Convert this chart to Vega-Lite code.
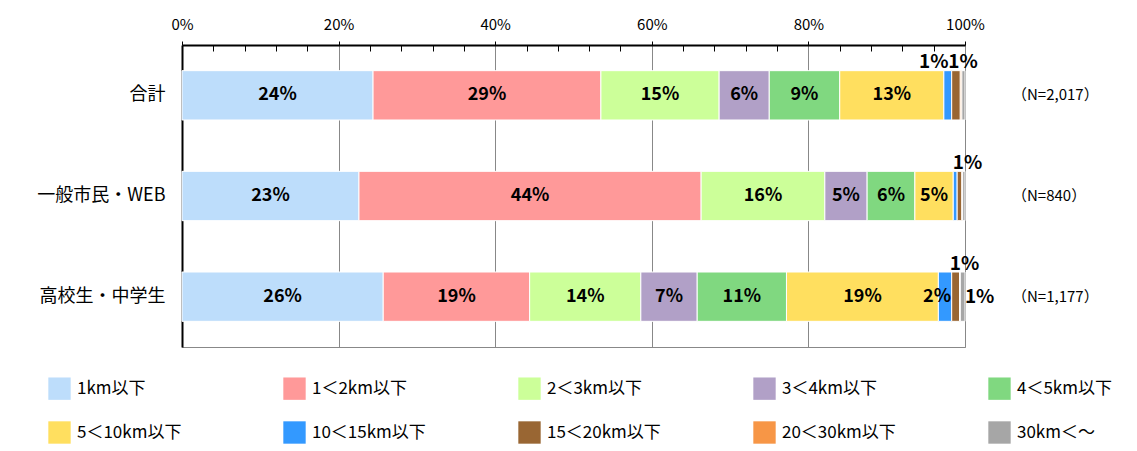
{
  "$schema": "https://vega.github.io/schema/vega-lite/v6.json",
  "width": 783,
  "height": 302,
  "autosize": "none",
  "padding": {"left": 182, "top": 45, "right": 172, "bottom": 104},
  "background": "white",
  "config": {
    "font": "Noto Sans CJK JP",
    "view": {"stroke": "#888888", "strokeWidth": 1}
  },
  "datasets": {
    "d": [
      {"g": "合計", "k": 1, "c": "1km以下", "v": 24.4},
      {"g": "合計", "k": 2, "c": "1＜2km以下", "v": 29.1},
      {"g": "合計", "k": 3, "c": "2＜3km以下", "v": 15.1},
      {"g": "合計", "k": 4, "c": "3＜4km以下", "v": 6.4},
      {"g": "合計", "k": 5, "c": "4＜5km以下", "v": 9.0},
      {"g": "合計", "k": 6, "c": "5＜10km以下", "v": 13.3},
      {"g": "合計", "k": 7, "c": "10＜15km以下", "v": 1.0},
      {"g": "合計", "k": 8, "c": "15＜20km以下", "v": 1.1},
      {"g": "合計", "k": 9, "c": "20＜30km以下", "v": 0.2},
      {"g": "合計", "k": 10, "c": "30km＜～", "v": 0.4},
      {"g": "一般市民・WEB", "k": 1, "c": "1km以下", "v": 22.6},
      {"g": "一般市民・WEB", "k": 2, "c": "1＜2km以下", "v": 43.7},
      {"g": "一般市民・WEB", "k": 3, "c": "2＜3km以下", "v": 15.8},
      {"g": "一般市民・WEB", "k": 4, "c": "3＜4km以下", "v": 5.4},
      {"g": "一般市民・WEB", "k": 5, "c": "4＜5km以下", "v": 6.1},
      {"g": "一般市民・WEB", "k": 6, "c": "5＜10km以下", "v": 4.9},
      {"g": "一般市民・WEB", "k": 7, "c": "10＜15km以下", "v": 0.5},
      {"g": "一般市民・WEB", "k": 8, "c": "15＜20km以下", "v": 0.6},
      {"g": "一般市民・WEB", "k": 9, "c": "20＜30km以下", "v": 0.1},
      {"g": "一般市民・WEB", "k": 10, "c": "30km＜～", "v": 0.3},
      {"g": "高校生・中学生", "k": 1, "c": "1km以下", "v": 25.7},
      {"g": "高校生・中学生", "k": 2, "c": "1＜2km以下", "v": 18.7},
      {"g": "高校生・中学生", "k": 3, "c": "2＜3km以下", "v": 14.2},
      {"g": "高校生・中学生", "k": 4, "c": "3＜4km以下", "v": 7.2},
      {"g": "高校生・中学生", "k": 5, "c": "4＜5km以下", "v": 11.4},
      {"g": "高校生・中学生", "k": 6, "c": "5＜10km以下", "v": 19.4},
      {"g": "高校生・中学生", "k": 7, "c": "10＜15km以下", "v": 1.7},
      {"g": "高校生・中学生", "k": 8, "c": "15＜20km以下", "v": 1.0},
      {"g": "高校生・中学生", "k": 9, "c": "20＜30km以下", "v": 0.1},
      {"g": "高校生・中学生", "k": 10, "c": "30km＜～", "v": 0.6}
    ],
    "n": [
      {"g": "合計", "t": "（N=2,017）"},
      {"g": "一般市民・WEB", "t": "（N=840）"},
      {"g": "高校生・中学生", "t": "（N=1,177）"}
    ]
  },
  "encoding": {
    "y": {
      "field": "g",
      "type": "nominal",
      "scale": {"domain": ["合計", "一般市民・WEB", "高校生・中学生"], "paddingInner": 0.51, "paddingOuter": 0.255},
      "axis": {
        "title": null,
        "ticks": false,
        "domainColor": "#000000",
        "domainWidth": 2,
        "labelFontSize": 18,
        "labelColor": "#000000",
        "labelPadding": 17
      }
    }
  },
  "layer": [
    {
      "data": {"name": "d"},
      "transform": [
        {"stack": "v", "groupby": ["g"], "sort": [{"field": "k", "order": "ascending"}], "as": ["x0", "x1"]},
        {"calculate": "(datum.x0 + datum.x1) / 2", "as": "mid"},
        {"calculate": "format(datum.v, '.0f') + '%'", "as": "lbl"}
      ],
      "layer": [
        {
          "mark": {"type": "bar", "stroke": "white", "strokeWidth": 1},
          "encoding": {
            "x": {
              "field": "x0",
              "type": "quantitative",
              "scale": {"domain": [0, 100], "nice": false},
              "axis": {
                "orient": "top",
                "title": null,
                "values": [0, 4, 8, 12, 16, 20, 24, 28, 32, 36, 40, 44, 48, 52, 56, 60, 64, 68, 72, 76, 80, 84, 88, 92, 96, 100],
                "tickCount": 40,
                "labelExpr": "datum.value % 20 === 0 ? datum.value + '%' : ''",
                "labelFontSize": 15,
                "labelColor": "#000000",
                "labelPadding": 9,
                "labelFlush": false,
                "labelOverlap": false,
                "domainColor": "#000000",
                "domainWidth": 2,
                "tickColor": "#000000",
                "tickWidth": 1,
                "tickSize": {"condition": {"test": "datum.value % 20 === 0", "value": 4}, "value": -6},
                "grid": true,
                "gridColor": "#888888",
                "gridWidth": 1,
                "gridOpacity": {"condition": {"test": "datum.value % 20 === 0 && datum.value > 0", "value": 1}, "value": 0}
              }
            },
            "x2": {"field": "x1"},
            "color": {
              "field": "c",
              "type": "nominal",
              "scale": {
                "domain": ["1km以下", "1＜2km以下", "2＜3km以下", "3＜4km以下", "4＜5km以下", "5＜10km以下", "10＜15km以下", "15＜20km以下", "20＜30km以下", "30km＜～"],
                "range": ["#BDDDFB", "#FF9999", "#CCFF99", "#B1A0C7", "#80D880", "#FFDF5F", "#3399FF", "#996633", "#F79646", "#A6A6A6"]
              },
              "legend": {
                "title": null,
                "orient": "none",
                "legendX": -134,
                "legendY": 332,
                "direction": "horizontal",
                "columns": 5,
                "gridAlign": "all",
                "columnPadding": 92,
                "rowPadding": 21,
                "padding": 0,
                "symbolType": "square",
                "symbolSize": 500,
                "symbolStrokeWidth": 0,
                "symbolOpacity": 1,
                "labelFontSize": 17,
                "labelColor": "#000000",
                "labelOffset": 6,
                "labelLimit": 250
              }
            }
          }
        },
        {
          "transform": [{"filter": "datum.v >= 3"}],
          "mark": {"type": "text", "fontSize": 18, "fontWeight": "bold", "color": "#000000", "baseline": "middle"},
          "encoding": {"x": {"field": "mid", "type": "quantitative"}, "text": {"field": "lbl"}}
        },
        {
          "transform": [{"filter": "datum.g === '合計' && datum.k === 7"}],
          "mark": {"type": "text", "fontSize": 19, "fontWeight": "bold", "color": "#000000", "baseline": "middle", "dx": -14, "dy": -33},
          "encoding": {"x": {"field": "mid", "type": "quantitative"}, "text": {"field": "lbl"}}
        },
        {
          "transform": [{"filter": "datum.g === '合計' && datum.k === 8"}],
          "mark": {"type": "text", "fontSize": 19, "fontWeight": "bold", "color": "#000000", "baseline": "middle", "dx": 7, "dy": -33},
          "encoding": {"x": {"field": "mid", "type": "quantitative"}, "text": {"field": "lbl"}}
        },
        {
          "transform": [{"filter": "datum.g === '一般市民・WEB' && datum.k === 8"}],
          "mark": {"type": "text", "fontSize": 19, "fontWeight": "bold", "color": "#000000", "baseline": "middle", "dx": 8, "dy": -33},
          "encoding": {"x": {"field": "mid", "type": "quantitative"}, "text": {"field": "lbl"}}
        },
        {
          "transform": [{"filter": "datum.g === '高校生・中学生' && datum.k === 7"}],
          "mark": {"type": "text", "fontSize": 18, "fontWeight": "bold", "color": "#000000", "baseline": "middle", "dx": -8},
          "encoding": {"x": {"field": "mid", "type": "quantitative"}, "text": {"field": "lbl"}}
        },
        {
          "transform": [{"filter": "datum.g === '高校生・中学生' && datum.k === 8"}],
          "mark": {"type": "text", "fontSize": 19, "fontWeight": "bold", "color": "#000000", "baseline": "middle", "dx": 9, "dy": -33},
          "encoding": {"x": {"field": "mid", "type": "quantitative"}, "text": {"field": "lbl"}}
        },
        {
          "transform": [{"filter": "datum.g === '高校生・中学生' && datum.k === 10"}],
          "mark": {"type": "text", "fontSize": 19, "fontWeight": "bold", "color": "#000000", "baseline": "middle", "dx": 17},
          "encoding": {"x": {"field": "mid", "type": "quantitative"}, "text": {"field": "lbl"}}
        }
      ]
    },
    {
      "data": {"name": "n"},
      "mark": {"type": "text", "fontSize": 15, "color": "#000000", "align": "left", "baseline": "middle", "dx": 47},
      "encoding": {
        "x": {"datum": 100, "type": "quantitative"},
        "text": {"field": "t"}
      }
    }
  ]
}
